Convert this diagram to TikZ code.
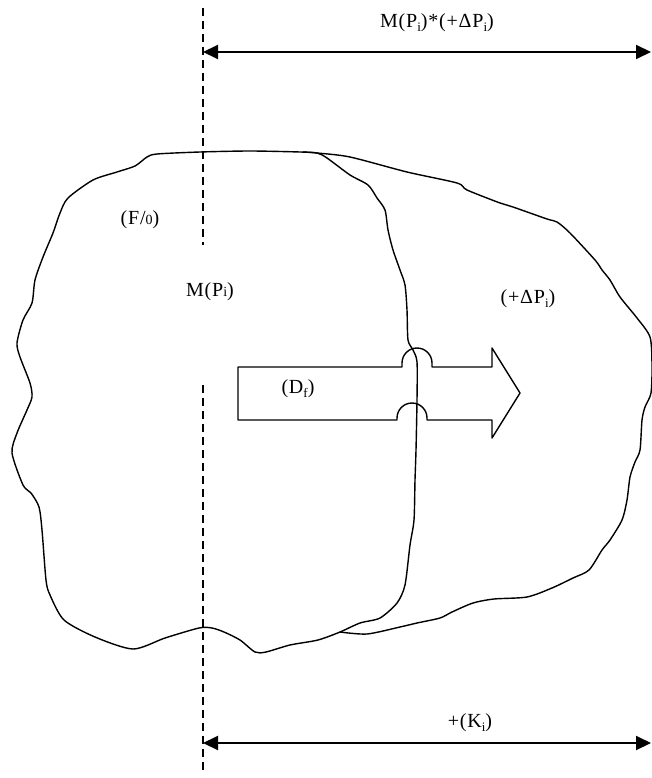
\documentclass[tikz,border=0pt]{standalone}
\usepackage{fontspec}
\setmainfont{Liberation Serif}
\usepackage{tikz}
\usetikzlibrary{arrows.meta,positioning}

\newcommand{\lowidx}[1]{\raisebox{-3.5pt}{\fontsize{13}{13}\selectfont #1}}

\begin{document}
\begin{tikzpicture}[
    x=1pt, y=-1pt,
    blob/.style={line width=1.4pt, line join=round},
    dim/.style={{Triangle[length=15pt,width=14pt]}-{Triangle[length=15pt,width=14pt]}, line width=2pt},
    axis/.style={dashed, dash pattern=on 8pt off 5pt, line width=1.3pt},
    lbl/.style={inner sep=1pt, font=\fontsize{20}{22}\selectfont\addfontfeature{LetterSpace=4}}
]
\useasboundingbox (0,0) rectangle (651,778);

% left region
\draw[blob] plot[smooth cycle, tension=0.45] coordinates {
    (157,154) (200,152) (250,151) (300,152) (317,153) (327,158) (350,175) (368,185)
    (377,198) (385,210) (388,230) (393,250) (400,270) (405,285) (407,310) (408,340)
    (413,350) (417,362) (417,400) (416,450) (415,480) (414,520) (410,545) (405,585)
    (397,603) (380,618) (360,623) (340,632) (318,640) (290,645) (266,652) (255,652)
    (240,640) (224,632) (212,628) (199,628) (165,638) (133,649) (95,637) (64,620)
    (50,595) (46,580) (42,530) (39,507) (31,493) (23,485) (12,453) (17,433)
    (27,410) (32,397) (30,383) (20,357) (17,343) (23,320) (32,303) (35,280)
    (43,257) (53,233) (60,213) (68,198) (93,180) (117,172) (135,166) (147,157)};

% right region
\draw[blob] plot[smooth, tension=0.45] coordinates {
    (303,152) (317,153) (350,157) (407,172) (457,183) (467,190) (500,203) (513,207)
    (547,219) (557,222) (570,233) (595,260) (602,270) (610,280) (620,297) (637,318)
    (650,337) (652,365) (651,393) (645,407) (642,420) (640,450) (635,462) (630,477)
    (627,500) (622,520) (610,540) (602,550) (589,570) (573,578) (552,588) (527,597)
    (494,599) (473,603) (452,612) (440,618) (417,623) (400,627) (367,634) (340,632)};

% block arrow with hops
\draw[blob] (238,367) -- (402,367) -- (402,363) arc[start angle=180, end angle=360, radius=15]
    -- (432,367) -- (492,367) -- (492,348) -- (520,393) -- (492,438) -- (492,420)
    -- (427,420) -- (427,418) arc[start angle=0, end angle=-180, radius=15]
    -- (397,420) -- (238,420) -- cycle;

% axis
\coordinate (d1) at (203,8);
\coordinate (d2) at (203,245);
\coordinate (d3) at (203,385);
\coordinate (d4) at (203,772);
\draw[axis] (d1) -- (d2);
\draw[axis] (d3) -- (d4);

% dimensions
\coordinate (tl) at (203,52);
\coordinate (tr) at (651,52);
\coordinate (bl) at (203,743);
\coordinate (br) at (651,743);
\draw[dim] (tl) -- (tr);
\draw[dim] (bl) -- (br);

\node[lbl] (topdim) at (437,23) {M(P\lowidx{i})*(+ΔP\lowidx{i})};
\node[lbl] (botdim) at (470,723) {+(K\lowidx{i})};

\node[lbl] (F0) at (140,220) {(F/{\fontsize{14}{14}\selectfont 0})};
\node[lbl] (MP) at (210,292) {M(P{\fontsize{14}{14}\selectfont i})};
\node[lbl] (dP) at (528,299) {(+ΔP\lowidx{i})};
\node[lbl] (Df) at (298,389) {(D\lowidx{f})};

\end{tikzpicture}
\end{document}
